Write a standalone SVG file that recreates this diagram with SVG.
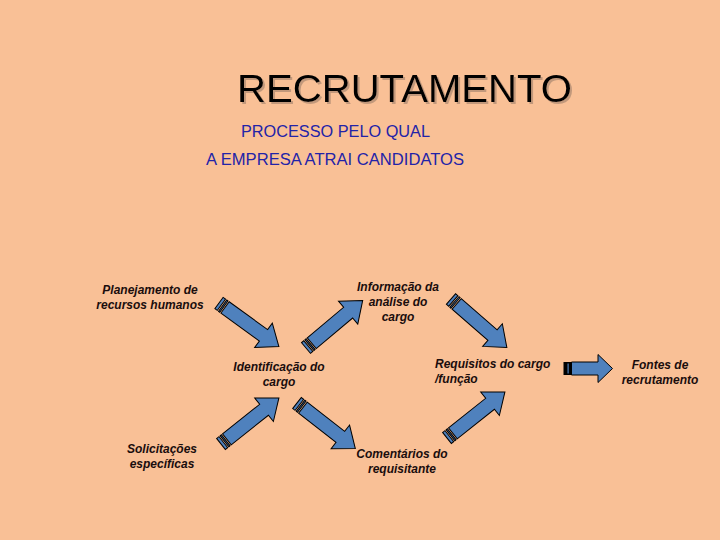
<svg xmlns="http://www.w3.org/2000/svg" xmlns:xlink="http://www.w3.org/1999/xlink" width="720" height="540" viewBox="0 0 720 540">
<style>
.title{font-family:"Liberation Sans",Arial,sans-serif;font-size:38px;fill:#000}
.sub{font-family:"Liberation Sans",Arial,sans-serif;font-size:16px;fill:#2323a8}
.lbl{font-family:"Liberation Sans",Arial,sans-serif;font-size:12px;font-weight:bold;font-style:italic;fill:#1a0d0d}
.c{text-anchor:middle}
.arr{fill:#4f81bd;stroke:#000;stroke-width:1}
</style>
<defs>
<filter id="sh" x="-5%" y="-20%" width="110%" height="140%">
<feDropShadow dx="2" dy="2" stdDeviation="0.6" flood-color="#8a7060" flood-opacity="0.5"/>
</filter>
<g id="arrow">
<rect class="arr" x="0" y="-7" width="3" height="14"/>
<rect class="arr" x="4.5" y="-7" width="1.5" height="14"/>
<polygon class="arr" points="7.5,-7 55,-7 55,-15 74,0 55,15 55,7 7.5,7"/>
</g>
</defs>
<rect width="720" height="540" fill="#f9c096"/>
<g id="title">
<text class="title" x="237" y="102" textLength="335" lengthAdjust="spacingAndGlyphs" filter="url(#sh)">RECRUTAMENTO</text>
<text class="sub" x="241" y="137" textLength="189" lengthAdjust="spacingAndGlyphs">PROCESSO PELO QUAL</text>
<text class="sub" x="206" y="165" textLength="258" lengthAdjust="spacingAndGlyphs">A EMPRESA ATRAI CANDIDATOS</text>
</g>
<g id="planejamento"><text class="lbl c" x="150" y="294">Planejamento de</text><text class="lbl c" x="150" y="309">recursos humanos</text></g>
<g id="informacao"><text class="lbl c" x="398" y="291">Informação da</text><text class="lbl c" x="398" y="306">análise do</text><text class="lbl c" x="398" y="321">cargo</text></g>
<g id="identificacao"><text class="lbl c" x="279" y="371">Identificação do</text><text class="lbl c" x="279" y="386">cargo</text></g>
<g id="requisitos"><text class="lbl" x="435" y="368">Requisitos do cargo</text><text class="lbl" x="435" y="383">/função</text></g>
<g id="fontes"><text class="lbl c" x="660" y="369">Fontes de</text><text class="lbl c" x="660" y="384">recrutamento</text></g>
<g id="solicitacoes"><text class="lbl c" x="162" y="453">Solicitações</text><text class="lbl c" x="162" y="468">específicas</text></g>
<g id="comentarios"><text class="lbl c" x="402" y="458">Comentários do</text><text class="lbl c" x="402" y="473">requisitante</text></g>
<g id="connectors">
<use xlink:href="#arrow" transform="translate(219,303) rotate(36)"/>
<use xlink:href="#arrow" transform="translate(306,348) rotate(-40)"/>
<use xlink:href="#arrow" transform="translate(451,299) rotate(41)"/>
<use xlink:href="#arrow" transform="translate(221,444) rotate(-38.5)"/>
<use xlink:href="#arrow" transform="translate(297,403) rotate(38)"/>
<use xlink:href="#arrow" transform="translate(447,438) rotate(-38.5)"/>
<g id="arrow-h">
<rect x="563.5" y="362" width="8" height="13" fill="#000"/>
<rect x="567.5" y="363.5" width="1.2" height="10" fill="#4f81bd"/>
<polygon class="arr" points="571.5,362 598,362 598,354.5 612.5,368.5 598,382.5 598,375 571.5,375"/>
</g>
</g>
</svg>
